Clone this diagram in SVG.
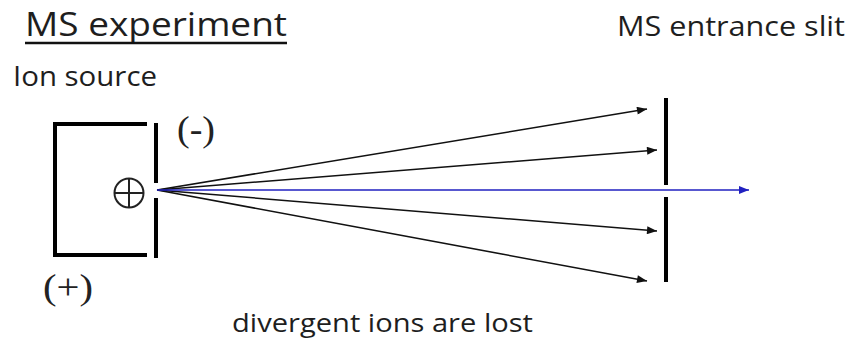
<svg xmlns="http://www.w3.org/2000/svg" width="853" height="341" viewBox="0 0 853 341">
<style>
.lbl{font-family:"Open Sans","Liberation Sans",sans-serif;fill:#1e1e1e;}
.ser{font-family:"Liberation Serif","Times New Roman",serif;fill:#222;}
.wall{stroke:#000;stroke-width:4;fill:none;}
.ray{stroke:#111;stroke-width:1.5;fill:none;marker-end:url(#ah);}
.beam{stroke:#2020c0;stroke-width:1.5;fill:none;marker-end:url(#ahb);}
</style>
<defs>
<marker id="ah" viewBox="0 0 10 8" refX="10" refY="4" markerWidth="11" markerHeight="8" markerUnits="userSpaceOnUse" orient="auto"><path d="M0,0 L10,4 L0,8 Z" fill="#111"/></marker>
<marker id="ahb" viewBox="0 0 10 8" refX="10" refY="4" markerWidth="11" markerHeight="8" markerUnits="userSpaceOnUse" orient="auto"><path d="M0,0 L10,4 L0,8 Z" fill="#2020c0"/></marker>
</defs>
<rect width="853" height="341" fill="#fff"/>
<g id="title">
<text class="lbl" x="25" y="36" font-size="32" textLength="262" lengthAdjust="spacingAndGlyphs">MS  experiment</text>
<line x1="25" y1="43" x2="287" y2="43" stroke="#111" stroke-width="2.5"/>
</g>
<g id="ion-source">
<text class="lbl" x="13" y="86" font-size="27" textLength="144" lengthAdjust="spacingAndGlyphs">Ion source</text>
<path class="wall" d="M147,124 H55 V255 H147"/>
<line class="wall" x1="156" y1="123" x2="156" y2="183"/>
<line class="wall" x1="156" y1="198" x2="156" y2="258"/>
<circle cx="129" cy="193" r="14.5" fill="none" stroke="#222" stroke-width="2"/>
<line x1="114.5" y1="193" x2="143.5" y2="193" stroke="#222" stroke-width="2"/>
<line x1="129" y1="178.5" x2="129" y2="207.5" stroke="#222" stroke-width="2"/>
<text class="ser" x="177" y="141" font-size="36" textLength="38" lengthAdjust="spacingAndGlyphs">(-)</text>
<text class="ser" x="43" y="299" font-size="36" textLength="50" lengthAdjust="spacingAndGlyphs">(+)</text>
</g>
<g id="entrance-slit">
<text class="lbl" x="617" y="36" font-size="27" textLength="228" lengthAdjust="spacingAndGlyphs">MS  entrance slit</text>
<line class="wall" x1="666" y1="98" x2="666" y2="185"/>
<line class="wall" x1="666" y1="197" x2="666" y2="282"/>
</g>
<g id="connectors">
<line class="ray" x1="157" y1="190" x2="647" y2="109"/>
<line class="ray" x1="157" y1="190" x2="657" y2="150"/>
<line class="ray" x1="157" y1="190" x2="657" y2="231"/>
<line class="ray" x1="157" y1="190" x2="647" y2="281"/>
<line class="beam" x1="157" y1="190" x2="749" y2="190"/>
</g>
<g id="caption">
<text class="lbl" x="232" y="332" font-size="26" textLength="301" lengthAdjust="spacingAndGlyphs">divergent ions are lost</text>
</g>
</svg>
